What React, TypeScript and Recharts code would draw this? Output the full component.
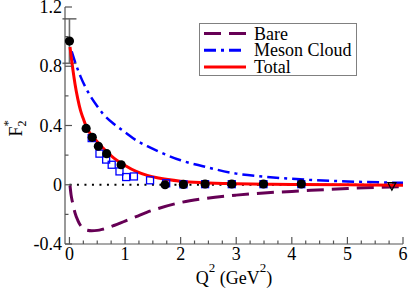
import React from 'react';
import { ComposedChart, Line, Scatter, XAxis, YAxis, Legend, ErrorBar } from 'recharts';

const FONT = 'Liberation Serif, Times New Roman, Times, DejaVu Serif, serif';
const FRAME = '#555';
const TXT = { fontFamily: FONT };

// Theory curves
const BARE_Q = [0.01, 0.03, 0.05, 0.08, 0.1, 0.15, 0.2, 0.25, 0.3, 0.4, 0.5, 0.6, 0.8, 1.0, 1.2, 1.4, 1.6, 2.0, 2.4, 3.0, 3.5, 4.0, 5.0, 6.0];
const BARE_F = [-0.005, -0.07, -0.11, -0.16, -0.19, -0.24, -0.275, -0.295, -0.305, -0.31, -0.308, -0.3, -0.275, -0.245, -0.215, -0.185, -0.16, -0.12, -0.095, -0.07, -0.055, -0.045, -0.025, -0.012];

const MESON_Q = [0.04, 0.1, 0.2, 0.3, 0.4, 0.5, 0.6, 0.8, 1.0, 1.2, 1.4, 1.6, 2.0, 2.4, 3.0, 3.5, 4.0, 5.0, 6.0];
const MESON_F = [0.9, 0.83, 0.73, 0.65, 0.585, 0.53, 0.48, 0.41, 0.355, 0.3, 0.26, 0.225, 0.165, 0.125, 0.075, 0.055, 0.04, 0.022, 0.013];

const TOTAL_Q = [0.01, 0.03, 0.05, 0.08, 0.1, 0.15, 0.2, 0.25, 0.3, 0.4, 0.5, 0.6, 0.8, 1.0, 1.2, 1.4, 1.6, 2.0, 2.4, 3.0, 3.5, 4.0, 5.0, 6.0];
const TOTAL_F = [0.93, 0.87, 0.81, 0.73, 0.68, 0.58, 0.5, 0.445, 0.395, 0.33, 0.29, 0.25, 0.18, 0.13, 0.09, 0.063, 0.045, 0.024, 0.014, 0.007, 0.004, 0.002, 0.0, -0.003];

// Data points
const PHOTO_Q = [0.0];
const PHOTO_F = [0.97];
const PHOTO_ERR = [0.15];

const DOTS_Q = [0.3, 0.41, 0.52, 0.67, 0.93, 1.72, 2.05, 2.44, 2.92, 3.49, 4.17];
const DOTS_F = [0.38, 0.32, 0.26, 0.21, 0.135, 0.0, 0.002, 0.005, 0.005, 0.005, 0.005];

const SQ_Q = [0.4, 0.54, 0.66, 0.76, 0.9, 1.02, 1.16, 1.45, 1.74, 2.05, 2.44, 2.92, 3.49, 4.17];
const SQ_F = [0.315, 0.21, 0.17, 0.135, 0.09, 0.052, 0.056, 0.03, 0.01, 0.003, 0.004, 0.004, 0.004, 0.004];

const TRI_Q = [5.8];
const TRI_F = [-0.01];

const ZERO_Q = [0, 6];
const ZERO_F = [0, 0];

const X_TICKS = [0, 0.25, 0.5, 0.75, 1, 1.25, 1.5, 1.75, 2, 2.25, 2.5, 2.75, 3, 3.25, 3.5, 3.75, 4, 4.25, 4.5, 4.75, 5, 5.25, 5.5, 5.75, 6];
const Y_TICKS = [-0.4, -0.2, 0, 0.2, 0.4, 0.6, 0.8, 1.0, 1.2];
const Y_MAJOR = [-0.4, 0, 0.4, 0.8, 1.2];

const zip = (q: number[], f: number[]) => q.map((v, i) => ({ q: v, f: f[i] }));

const bare = zip(BARE_Q, BARE_F);
const meson = zip(MESON_Q, MESON_F);
const total = zip(TOTAL_Q, TOTAL_F);
const photo = PHOTO_Q.map((v, i) => ({ q: v, f: PHOTO_F[i], err: PHOTO_ERR[i] }));
const dots = zip(DOTS_Q, DOTS_F);
const squares = zip(SQ_Q, SQ_F);
const tris = zip(TRI_Q, TRI_F);
const zero = zip(ZERO_Q, ZERO_F);

const isXMajor = (v: number) => Math.abs(v - Math.round(v)) < 1e-6;
const isYMajor = (v: number) => Y_MAJOR.some((m) => Math.abs(m - v) < 1e-6);
const fmtY = (v: number) => (Math.abs(v) < 1e-9 ? '0' : v.toFixed(1));

const BottomTick = (p: any) => {
  const { x, y, payload } = p;
  const major = isXMajor(payload.value);
  return (
    <g>
      <line x1={x} x2={x} y1={y} y2={y - (major ? 7 : 3.5)} stroke={FRAME} strokeWidth={1.2} />
      {major && (
        <text x={x} y={y + 16} textAnchor="middle" fontSize={18} style={TXT} fill="#000">
          {Math.round(payload.value)}
        </text>
      )}
    </g>
  );
};

const TopTick = (p: any) => {
  const { x, y, payload } = p;
  const major = isXMajor(payload.value);
  return <line x1={x} x2={x} y1={y} y2={y + (major ? 7 : 3.5)} stroke={FRAME} strokeWidth={1.2} />;
};

const LeftTick = (p: any) => {
  const { x, y, payload } = p;
  const major = isYMajor(payload.value);
  return (
    <g>
      <line x1={x} x2={x + (major ? 7 : 3.5)} y1={y} y2={y} stroke={FRAME} strokeWidth={1.2} />
      {major && (
        <text x={x - 3} y={y + 6} textAnchor="end" fontSize={18} style={TXT} fill="#000">
          {fmtY(payload.value)}
        </text>
      )}
    </g>
  );
};

const RightTick = (p: any) => {
  const { x, y, payload } = p;
  const major = isYMajor(payload.value);
  return <line x1={x} x2={x - (major ? 7 : 3.5)} y1={y} y2={y} stroke={FRAME} strokeWidth={1.2} />;
};

const XTitle = (p: any) => {
  const vb = p.viewBox || { x: 65, y: 244, width: 338 };
  const cx = vb.x + vb.width / 2;
  return (
    <text x={cx} y={vb.y + 40} textAnchor="middle" fontSize={18} style={TXT} fill="#000">
      Q<tspan dy={-12} fontSize={13}>2</tspan>
      <tspan dy={12}> (GeV</tspan>
      <tspan dy={-12} fontSize={13}>2</tspan>
      <tspan dy={12}>)</tspan>
    </text>
  );
};

const YTitle = (p: any) => {
  const vb = p.viewBox || { x: 0, y: 7, width: 65, height: 237 };
  const cy = vb.y + vb.height / 2;
  return (
    <text transform={`translate(22, ${cy + 11}) rotate(-90)`} fontSize={18} style={TXT} fill="#000">
      F<tspan dy={4} fontSize={12}>2</tspan>
      <tspan dx={-6} dy={-14} fontSize={13}>*</tspan>
    </text>
  );
};

const Circle = (p: any) => <circle cx={p.cx} cy={p.cy} r={4.6} fill="#000" />;
const Square = (p: any) => (
  <rect x={p.cx - 3.5} y={p.cy - 3.5} width={7} height={7} fill="none" stroke="#0000ff" strokeWidth={1.3} />
);
const Tri = (p: any) => (
  <polygon
    points={`${p.cx - 4},${p.cy - 3.5} ${p.cx + 4},${p.cy - 3.5} ${p.cx},${p.cy + 4}`}
    fill="none"
    stroke="#000"
    strokeWidth={1.3}
  />
);

const LegendBox = (props: any) => {
  const items = (props.payload || []).filter((e: any) => e.type !== 'none');
  return (
    <div style={{ width: 158, height: 53, border: '1px solid #808080', boxSizing: 'border-box', background: '#fff' }}>
      <svg width={156} height={51} style={{ display: 'block' }}>
        {items.map((e: any, i: number) => {
          const y = 9.5 + i * 16.7;
          return (
            <g key={i}>
              <line
                x1={4}
                x2={46}
                y1={y}
                y2={y}
                stroke={e.color}
                strokeWidth={3}
                strokeDasharray={e.payload?.strokeDasharray}
              />
              <text x={54} y={y + 6} fontSize={18} style={TXT} fill="#000">
                {e.value}
              </text>
            </g>
          );
        })}
      </svg>
    </div>
  );
};

export default function App() {
  return (
    <div style={{ position: 'absolute', left: 0, top: 0, background: '#fff' }}>
      <ComposedChart width={409} height={289} margin={{ top: 7, right: 6, bottom: 0, left: 0 }}>
        <XAxis
          type="number"
          dataKey="q"
          domain={[-0.08, 6]}
          ticks={X_TICKS}
          interval={0}
          height={45}
          tickSize={0}
          tickMargin={0}
          tickLine={false}
          tick={BottomTick}
          axisLine={{ stroke: FRAME, strokeWidth: 1.2 }}
          label={{ content: XTitle }}
        />
        <XAxis
          xAxisId="top"
          orientation="top"
          type="number"
          dataKey="q"
          domain={[-0.08, 6]}
          ticks={X_TICKS}
          interval={0}
          height={0}
          tickSize={0}
          tickMargin={0}
          tickLine={false}
          tick={TopTick}
          axisLine={{ stroke: FRAME, strokeWidth: 1.2 }}
        />
        <YAxis
          type="number"
          domain={[-0.4, 1.2]}
          ticks={Y_TICKS}
          interval={0}
          width={65}
          tickSize={0}
          tickMargin={0}
          tickLine={false}
          tick={LeftTick}
          axisLine={{ stroke: FRAME, strokeWidth: 1.2 }}
          label={{ content: YTitle }}
        />
        <YAxis
          yAxisId="right"
          orientation="right"
          type="number"
          domain={[-0.4, 1.2]}
          ticks={Y_TICKS}
          interval={0}
          width={0}
          tickSize={0}
          tickMargin={0}
          tickLine={false}
          tick={RightTick}
          axisLine={{ stroke: FRAME, strokeWidth: 1.2 }}
        />
        <Legend
          layout="vertical"
          align="center"
          verticalAlign="middle"
          content={LegendBox}
          wrapperStyle={{ position: 'absolute', left: 199, top: 23, width: 158, height: 53 }}
        />
        <Line
          data={zero}
          dataKey="f"
          stroke="#000"
          strokeWidth={2}
          strokeDasharray="2 5.5"
          dot={false}
          legendType="none"
          isAnimationActive={false}
        />
        <Scatter data={squares} dataKey="f" shape={Square} legendType="none" isAnimationActive={false} />
        <Scatter data={photo} dataKey="f" shape={Circle} legendType="none" isAnimationActive={false}>
          <ErrorBar dataKey="err" direction="y" width={7} stroke="#6e6e6e" strokeWidth={1.6} />
        </Scatter>
        <Scatter data={dots} dataKey="f" shape={Circle} legendType="none" isAnimationActive={false} />
        <Scatter data={tris} dataKey="f" shape={Tri} legendType="none" isAnimationActive={false} />
        <Line
          name="Bare"
          data={bare}
          dataKey="f"
          type="monotone"
          stroke="#660055"
          strokeWidth={3}
          strokeDasharray="17 8"
          dot={false}
          isAnimationActive={false}
        />
        <Line
          name="Meson Cloud"
          data={meson}
          dataKey="f"
          type="monotone"
          stroke="#0000ff"
          strokeWidth={2.5}
          strokeDasharray="12 5 3 5"
          dot={false}
          isAnimationActive={false}
        />
        <Line
          name="Total"
          data={total}
          dataKey="f"
          type="monotone"
          stroke="#ff0000"
          strokeWidth={3}
          dot={false}
          isAnimationActive={false}
        />
      </ComposedChart>
    </div>
  );
}
